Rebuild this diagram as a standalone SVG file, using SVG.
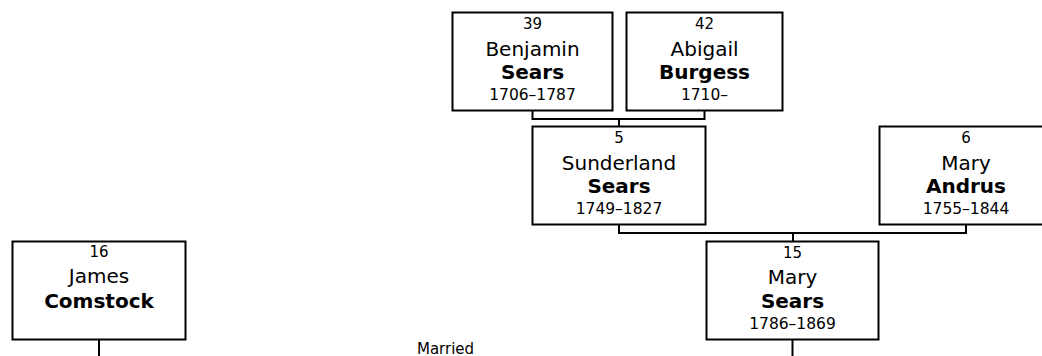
<svg xmlns="http://www.w3.org/2000/svg" width="1042" height="356" viewBox="0 0 1042 356">
<style>
.box{fill:#fff;stroke:#000;stroke-width:2}
.conn{fill:none;stroke:#000;stroke-width:2}
text{font-family:"DejaVu Sans",Verdana,sans-serif;fill:#000;text-anchor:middle}
.num{font-size:15px}
.given{font-size:20px}
.sur{font-size:20px;font-weight:bold}
.date{font-size:15.5px}
.lbl{font-size:15px}
</style>
<rect width="1042" height="356" fill="#fff"/>
<g id="connectors">
<path class="conn" d="M532.5,111 V119 H704.5 V111 M619,119 V126"/>
<path class="conn" d="M619,225 V233 H966 V225 M793,233 V241"/>
<path class="conn" d="M792.5,340 V356"/>
<path class="conn" d="M99,340 V356"/>
</g>
<g id="p39">
<rect class="box" x="452.5" y="12.5" width="160" height="98"/>
<text class="num" x="532.5" y="29">39</text>
<text class="given" x="532.5" y="55.5">Benjamin</text>
<text class="sur" x="532.5" y="78.5">Sears</text>
<text class="date" x="532.5" y="99.5">1706–1787</text>
</g>
<g id="p42">
<rect class="box" x="626.5" y="12.5" width="156" height="98"/>
<text class="num" x="704.5" y="29">42</text>
<text class="given" x="704.5" y="55.5">Abigail</text>
<text class="sur" x="704.5" y="78.5">Burgess</text>
<text class="date" x="704.5" y="99.5">1710–</text>
</g>
<g id="p5">
<rect class="box" x="532.5" y="126.5" width="173" height="98"/>
<text class="num" x="619" y="143">5</text>
<text class="given" x="619" y="169.5">Sunderland</text>
<text class="sur" x="619" y="192.5">Sears</text>
<text class="date" x="619" y="214">1749–1827</text>
</g>
<g id="p6">
<rect class="box" x="879.5" y="126.5" width="173" height="98"/>
<text class="num" x="966" y="143">6</text>
<text class="given" x="966" y="169.5">Mary</text>
<text class="sur" x="966" y="192.5">Andrus</text>
<text class="date" x="966" y="214">1755–1844</text>
</g>
<g id="p15">
<rect class="box" x="706.5" y="241.5" width="172" height="98"/>
<text class="num" x="792.5" y="257.5">15</text>
<text class="given" x="792.5" y="284">Mary</text>
<text class="sur" x="792.5" y="307.5">Sears</text>
<text class="date" x="792.5" y="329">1786–1869</text>
</g>
<g id="p16">
<rect class="box" x="12.5" y="241.5" width="173" height="98"/>
<text class="num" x="99" y="257">16</text>
<text class="given" x="99" y="283">James</text>
<text class="sur" x="99" y="307.5">Comstock</text>
</g>
<g id="married">
<text class="lbl" x="445.5" y="353.5">Married</text>
</g>
</svg>
